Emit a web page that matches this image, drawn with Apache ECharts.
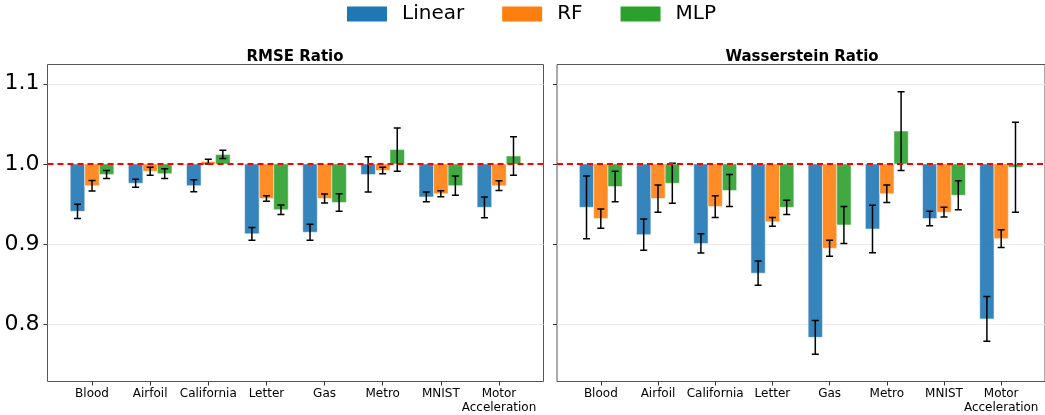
<!DOCTYPE html>
<html><head><meta charset="utf-8">
<script src="https://cdn.jsdelivr.net/npm/echarts@6/dist/echarts.min.js"></script>
<style>html,body{margin:0;padding:0;background:#fff}#c{width:1045px;height:415px}</style>
</head><body><div id="c"></div>
<script>
const categories = ['Blood','Airfoil','California','Letter','Gas','Metro','MNIST','Motor\nAcceleration'];
const models = ['Linear','RF','MLP'];
const colors = ['#1f77b4','#ff7f0e','#2ca02c'];
const yTicks = [0.8, 0.9, 1.0, 1.1];
const panelTitles = ['RMSE Ratio','Wasserstein Ratio'];

// RMSE ratio
const rmseLinear    = [0.941, 0.976, 0.973, 0.913, 0.915, 0.987, 0.959, 0.946];
const rmseLinearErr = [0.009, 0.005, 0.0075, 0.008, 0.010, 0.022, 0.006, 0.013];
const rmseRF        = [0.973, 0.991, 1.003, 0.957, 0.957, 0.992, 0.963, 0.973];
const rmseRFErr     = [0.0065, 0.005, 0.003, 0.0035, 0.0055, 0.004, 0.0037, 0.006];
const rmseMLP       = [0.987, 0.988, 1.012, 0.943, 0.952, 1.018, 0.973, 1.010];
const rmseMLPErr    = [0.005, 0.006, 0.005, 0.006, 0.011, 0.027, 0.012, 0.024];

// Wasserstein ratio
const wassLinear    = [0.946, 0.912, 0.901, 0.864, 0.784, 0.919, 0.932, 0.807];
const wassLinearErr = [0.039, 0.0195, 0.012, 0.015, 0.021, 0.0295, 0.009, 0.028];
const wassRF        = [0.932, 0.957, 0.947, 0.928, 0.895, 0.963, 0.940, 0.907];
const wassRFErr     = [0.012, 0.017, 0.0135, 0.0055, 0.010, 0.011, 0.006, 0.011];
const wassMLP       = [0.972, 0.976, 0.967, 0.946, 0.924, 1.041, 0.961, 0.996];
const wassMLPErr    = [0.019, 0.025, 0.020, 0.009, 0.023, 0.049, 0.018, 0.056];

const panels = [
  [[rmseLinear, rmseLinearErr],[rmseRF, rmseRFErr],[rmseMLP, rmseMLPErr]],
  [[wassLinear, wassLinearErr],[wassRF, wassRFErr],[wassMLP, wassMLPErr]]
];

const BASE = 1.0, BW = 0.25;
const font = 'DejaVu Sans';

function hexA(hex, a){
  const r=parseInt(hex.slice(1,3),16), g=parseInt(hex.slice(3,5),16), b=parseInt(hex.slice(5,7),16);
  return `rgba(${r},${g},${b},${a})`;
}

function makeRender(k, color){
  const off = (k - 1) * BW;
  return function(params, api){
    const i = api.value(0), v = api.value(1), e = api.value(2);
    const p0 = api.coord([i + off - BW/2, BASE]);
    const p1 = api.coord([i + off + BW/2, v]);
    const top = api.coord([i + off, v + e]);
    const bot = api.coord([i + off, v - e]);
    const cap = 3.5;
    return {
      type: 'group',
      children: [
        {type:'rect', shape:{x:p0[0], y:Math.min(p0[1],p1[1]), width:p1[0]-p0[0], height:Math.abs(p1[1]-p0[1])},
         style:{fill:hexA(color,0.9), stroke:'rgba(255,255,255,0.5)', lineWidth:1}},
        {type:'line', shape:{x1:top[0], y1:top[1], x2:bot[0], y2:bot[1]}, style:{stroke:'#000', lineWidth:1.5}, z2:5},
        {type:'line', shape:{x1:top[0]-cap, y1:top[1], x2:top[0]+cap, y2:top[1]}, style:{stroke:'#000', lineWidth:1.5}, z2:5},
        {type:'line', shape:{x1:bot[0]-cap, y1:bot[1], x2:bot[0]+cap, y2:bot[1]}, style:{stroke:'#000', lineWidth:1.5}, z2:5}
      ]
    };
  };
}

const grids = [
  {left:47.5, top:64.5, width:496, height:317, show:true, borderColor:'#555', borderWidth:1},
  {left:557, top:64.5, width:496, height:317, show:true, borderColor:'#555', borderWidth:1}
];
const catIdx = categories.map((_, i) => i);

const xAxes = grids.map((g, gi) => ({
  type:'value', gridIndex:gi, min:-0.766, max:7.766,
  axisLine:{show:false, onZero:false}, splitLine:{show:false},
  axisTick:{show:true, length:4, customValues:catIdx, lineStyle:{color:'#333'}},
  axisLabel:{customValues:catIdx, formatter:(v)=>categories[Math.round(v)], fontFamily:font, fontSize:12, color:'#000', margin:5, lineHeight:14}
}));
const yAxes = grids.map((g, gi) => ({
  type:'value', gridIndex:gi, min:0.729, max:1.124,
  axisLine:{show:false, onZero:false},
  axisTick:{show:true, length:4, customValues:yTicks, lineStyle:{color:'#333'}},
  splitLine:{show:true, lineStyle:{color:'#ebebeb', width:1}},
  axisLabel:{show:gi===0, customValues:yTicks, formatter:(v)=>v.toFixed(1), fontFamily:font, fontSize:22, color:'#000', margin:8}
}));

const series = [];
panels.forEach((panel, gi) => {
  panel.forEach(([vals, errs], k) => {
    series.push({
      type:'custom', name:models[k], xAxisIndex:gi, yAxisIndex:gi,
      itemStyle:{color:colors[k]},
      renderItem:makeRender(k, colors[k]),
      data: vals.map((v, i) => [i, v, errs[i]]),
      clip:true
    });
  });
  series.push({
    type:'line', xAxisIndex:gi, yAxisIndex:gi, data:[], silent:true,
    markLine:{symbol:'none', silent:true, z:10, label:{show:false},
      lineStyle:{color:'#ff0000', type:[6,4], width:2}, data:[{yAxis:BASE}]}
  });
});

const chart = echarts.init(document.getElementById('c'), null, {renderer:'canvas'});
chart.setOption({
  animation:false,
  textStyle:{fontFamily:font},
  title: [
    {text:panelTitles[0], left:290, top:45, textAlign:'center', textStyle:{fontFamily:font, fontSize:15, fontWeight:'bold', color:'#000'}},
    {text:panelTitles[1], left:797, top:45, textAlign:'center', textStyle:{fontFamily:font, fontSize:15, fontWeight:'bold', color:'#000'}}
  ],
  legend:{
    data:models, top:4, left:347, padding:0, icon:'rect', itemWidth:40, itemHeight:15, itemGap:38,
    textStyle:{fontFamily:font, fontSize:20, color:'#000', padding:[0,0,0,10]}
  },
  grid:grids, xAxis:xAxes, yAxis:yAxes, series
});
</script></body></html>
